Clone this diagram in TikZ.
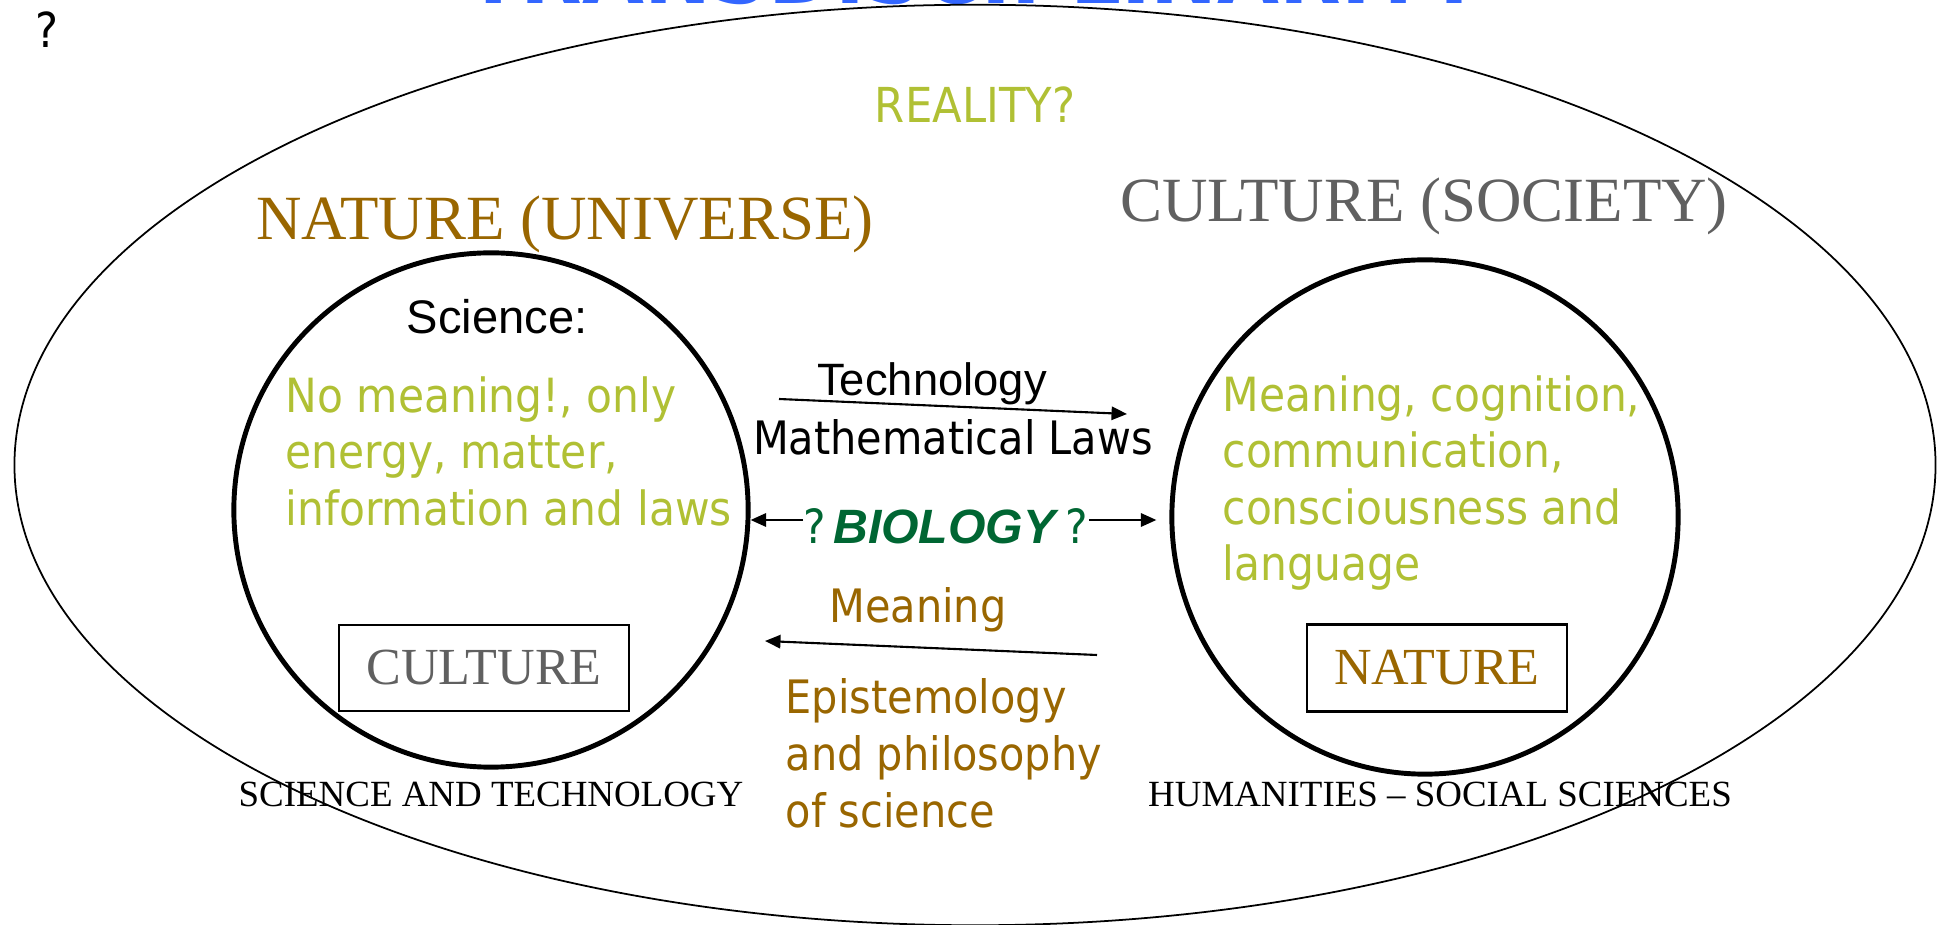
\documentclass[tikz,border=0pt]{standalone}
\usepackage{fontspec}
\setmainfont{Liberation Serif}
\newfontfamily\tahoma{DejaVu Sans}[FakeStretch=0.9]
\newfontfamily\arial{Liberation Sans}
\usetikzlibrary{shapes.geometric,arrows.meta}

\definecolor{greentext}{RGB}{176,192,52}
\definecolor{browntext}{RGB}{153,102,0}
\definecolor{greytext}{RGB}{96,96,96}
\definecolor{biogreen}{RGB}{0,102,51}
\definecolor{titleblue}{RGB}{51,102,255}

\newcommand{\bioq}{{\tahoma\fontsize{13.4}{16}\selectfont ?}}

\begin{document}
\begin{tikzpicture}[x=0.01cm, y=-0.01cm, inner sep=0pt,
            sphere/.style={draw, line width=1.4pt},
            tag/.style={draw, line width=0.6pt, font=\fontsize{14.8}{16}\selectfont},
            link/.style={-{Triangle[length=4.4pt,width=3.8pt]}, line width=0.6pt},
            heading/.style={anchor=base, font=\fontsize{17.9}{20}\selectfont},
            field/.style={anchor=base, font=\fontsize{10.5}{12}\selectfont},
            sans/.style={font=\tahoma\fontsize{13.4}{16}\selectfont}
            ]
            \useasboundingbox (0,0) rectangle (1939,925);
            \clip (0,0) rectangle (1939,925);

            % Title, mostly off the page
            \node[anchor=base, text=titleblue, font=\tahoma\bfseries\fontsize{25.3}{28}\selectfont] (title) at (975,4) {TRANSDISCIPLINARITY};
            \node[anchor=base west, font=\tahoma\fontsize{13.7}{16}\selectfont] (mark) at (35,48) {?};

            % Outer field
            \node[ellipse, draw, line width=0.5pt, minimum width=19.2cm, minimum height=9.2cm] (reality) at (975,465) {};
            \node[anchor=base, text=greentext, font=\tahoma\fontsize{13.7}{16}\selectfont] (realq) at (975,123) {REALITY?};

            % Headings
            \node[heading, text=browntext] (natHead) at (565,240) {NATURE (UNIVERSE)};
            \node[heading, text=greytext] (cultHead) at (1424,222) {CULTURE (SOCIETY)};

            % Left circle
            \node[sphere, circle, minimum size=5.14cm] (lc) at (491,510) {};
            \node[anchor=base, font=\arial\fontsize{13.4}{16}\selectfont] (sci) at (497,334) {Science:};
            \node[sans, text=greentext, align=left, anchor=north west] (sciText) at (285,376) {No meaning!, only\\energy, matter,\\information and laws};
            \node[tag, text=greytext, minimum width=2.89cm, minimum height=0.86cm] (cultBox) at (484,668) {CULTURE};
            \node[field] (sciTech) at (491,807) {SCIENCE AND TECHNOLOGY};

            % Right circle
            \node[sphere, ellipse, minimum width=5.06cm, minimum height=5.14cm] (rc) at (1425,517) {};
            \node[sans, text=greentext, align=left, anchor=north west] (humText) at (1222,375) {Meaning, cognition,\\communication,\\consciousness and\\language};
            \node[tag, text=browntext, minimum width=2.59cm, minimum height=0.87cm] (natBox) at (1437,668) {NATURE};
            \node[field] (humSoc) at (1440,807) {HUMANITIES -- SOCIAL SCIENCES};

            % Technology going right
            \node[anchor=base, font=\arial\fontsize{12.9}{15}\selectfont] (tech) at (932,396) {Technology};
            \coordinate (techFrom) at (779,399);
            \coordinate (techTo) at (1127,414);
            \draw[link] (techFrom) -- (techTo);
            \node[anchor=base, font=\tahoma\fontsize{13.1}{15}\selectfont] (laws) at (953,455) {Mathematical Laws};

            % Biology in between
            \node[anchor=base west, text=biogreen] (bio) at (803,544) {\bioq\hspace{2pt}{\arial\bfseries\itshape\fontsize{13.7}{16}\selectfont BIOLOGY}\hspace{3pt}\bioq};
            \coordinate (bioLine) at (0,520);
            \draw[link] (bio.west |- bioLine) -- (lc.east |- bioLine);
            \draw[link, shorten >=3.7pt] (bio.east |- bioLine) -- (rc.west |- bioLine);

            % Meaning going left
            \node[anchor=base, text=browntext, font=\tahoma\fontsize{13.1}{15}\selectfont] (mean) at (918,623) {Meaning};
            \coordinate (meanFrom) at (1097,655);
            \coordinate (meanTo) at (765,641);
            \draw[link] (meanFrom) -- (meanTo);
            \node[text=browntext, align=left, anchor=north west, font=\tahoma\fontsize{13.1}{16.2}\selectfont] (epist) at (785,678) {Epistemology\\and philosophy\\of science};
\end{tikzpicture}
\end{document}
